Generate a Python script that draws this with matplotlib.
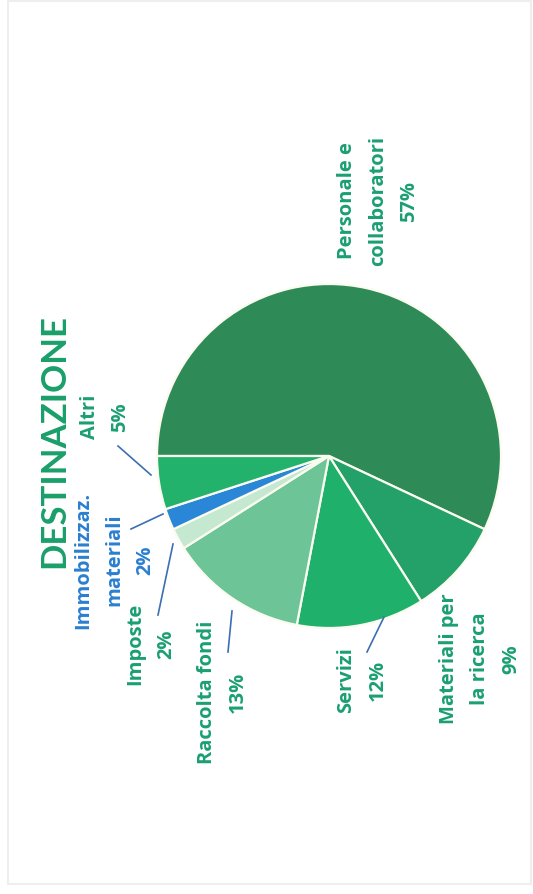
import numpy as np
import matplotlib.pyplot as plt
from matplotlib.patches import Rectangle

#Data
labels = ["Personale e\ncollaboratori\n57%", "Materiali per\nla ricerca\n9%", "Servizi\n12%",
          "Raccolta fondi\n13%", "Imposte\n2%", "Immobilizzaz.\nmateriali\n2%", "Altri\n5%"]
values = [57, 9, 12, 13, 2, 2, 5]
slice_colors = ["#2e8a56", "#23a168", "#1fb06c", "#6cc497", "#c4e8d0", "#2a86d6", "#22b26c"]
text_colors = ["#1a9f72", "#1a9f72", "#1a9f72", "#1a9f72", "#1a9f72", "#2a7fd0", "#1a9f72"]

W, H = 533, 895
fig = plt.figure(figsize=(W / 100, H / 100), dpi=100)
ax = fig.add_axes([0, 0, 1, 1])

center = (329, H - 457)
radius = 172
wedges, _ = ax.pie(values, startangle=180, counterclock=False, colors=slice_colors,
                   center=center, radius=radius,
                   wedgeprops=dict(edgecolor="#fbfbf0", linewidth=1.6))

ax.set_xlim(0, W)
ax.set_ylim(0, H)
ax.set_aspect("equal")
ax.axis("off")

#label positions (image pixels), text reads bottom to top, one text per line
label_pos = [(378, 201), (480, 659), (362, 680), (222, 692), (151, 644), (114, 560), (105, 417)]
step = 31
for lab, (x, y), c in zip(labels, label_pos, text_colors):
    lines = lab.split("\n")
    n = len(lines)
    for i, line in enumerate(lines):
        ax.text(x + (i - (n - 1) / 2) * step, H - y, line, rotation=90, ha="center", va="center",
                color=c, fontsize=14.5, fontweight="bold", family="Open Sans")

#leader lines
leaders = [((118, 447), (151, 476)), ((131, 530), (163, 515)), ((173, 545), (158, 616)),
           ((232, 612), (228, 653)), ((384, 618), (367, 653))]
for (x0, y0), (x1, y1) in leaders:
    ax.plot([x0, x1], [H - y0, H - y1], color="#3b6fb2", lw=1.2)

ax.text(54, H - 441, "DESTINAZIONE", rotation=90, ha="center", va="center",
        color="#1a9f6a", fontsize=25, fontweight="bold", family="Lato")

#faint page border
ax.add_patch(Rectangle((8, 10), W - 10, H - 12, fill=False, edgecolor="#eeeeee", lw=1.5))

fig.savefig("out.png", dpi=100, facecolor="white")
